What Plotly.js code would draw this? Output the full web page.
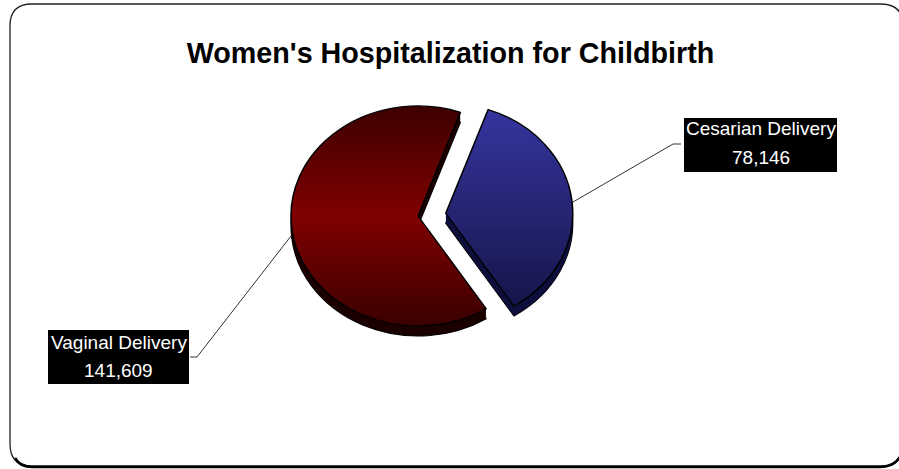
<!DOCTYPE html>
<html><head><meta charset="utf-8">
<script src="https://cdn.plot.ly/plotly-3.0.1.min.js"></script>
<style>html,body{margin:0;padding:0;background:#fff}#c{width:899px;height:469px}</style>
</head><body><div id="c"></div>
<script>
var categories = ['Cesarian Delivery', 'Vaginal Delivery'];
var values = [78146, 141609];
var valueLabels = ['78,146', '141,609'];
var titleText = "Women's Hospitalization for Childbirth";

var W = 899, H = 469;
function px(x){ return x / W; }
function py(y){ return 1 - y / H; }

var cx = 418, cy = 216, ry = 110, rx = 127, pull = 0.22, rot = 19.5;
var half = ry * (1 + pull);
var depths = [10, 9, 8, 7, 6, 5, 4, 3, 2, 1, 0];

var traces = depths.map(function(d, i){
  var top = d === 0, deepest = i === 0;
  return {
    type: 'pie', values: values, labels: categories, sort: false, direction: 'clockwise',
    rotation: rot, pull: [pull, 0], textinfo: 'none', hoverinfo: 'skip', showlegend: false,
    domain: { x: [px(cx - half), px(cx + half)], y: [py(cy + d + half), py(cy + d - half)] },
    marker: { colors: top ? ['#333399', '#800000'] : ['#10103f', '#1c0000'],
              line: { color: '#000000', width: top ? 1.3 : (deepest ? 1 : 0) } }
  };
});

function L(pts, w, c){
  return { type:'path', xref:'paper', yref:'paper', layer:'above',
    path: pts.map(function(p,i){ return (i?'L':'M') + px(p[0]) + ',' + py(p[1]); }).join(' '),
    line:{ color:c||'#000', width:w||1 } };
}
function box(x0,y0,x1,y1){
  return { type:'rect', xref:'paper', yref:'paper', layer:'below',
    x0:px(x0), x1:px(x1), y0:py(y1), y1:py(y0), fillcolor:'#000', line:{width:0} };
}
function frame(x0,y0,x1,y1,r,w,c){
  var p = 'M'+px(x0+r)+','+py(y0)+' L'+px(x1-r)+','+py(y0)+
    ' Q'+px(x1)+','+py(y0)+' '+px(x1)+','+py(y0+r)+
    ' L'+px(x1)+','+py(y1-r)+' Q'+px(x1)+','+py(y1)+' '+px(x1-r)+','+py(y1)+
    ' L'+px(x0+r)+','+py(y1)+' Q'+px(x0)+','+py(y1)+' '+px(x0)+','+py(y1-r)+
    ' L'+px(x0)+','+py(y0+r)+' Q'+px(x0)+','+py(y0)+' '+px(x0+r)+','+py(y0)+' Z';
  return { type:'path', xref:'paper', yref:'paper', layer:'below', path:p, line:{color:c,width:w} };
}
function bottomEdge(){
  var p = 'M'+px(15)+','+py(458)+' Q'+px(20)+','+py(467)+' '+px(32)+','+py(467)+
    ' L'+px(880)+','+py(467)+' Q'+px(895)+','+py(467)+' '+px(901)+','+py(455);
  return { type:'path', xref:'paper', yref:'paper', layer:'below', path:p, line:{color:'#000',width:2.6} };
}
function text(s,x,y){
  return { text:s, x:px(x), y:py(y), xref:'paper', yref:'paper', showarrow:false,
    xanchor:'center', yanchor:'middle', font:{family:'Liberation Sans, Arial, sans-serif', size:19, color:'#fff'} };
}

var layout = {
  width:W, height:H, margin:{l:0,r:0,t:0,b:0}, paper_bgcolor:'#fff', plot_bgcolor:'#fff', showlegend:false,
  title:{ text:titleText, x:px(450.5), xanchor:'center', y:py(53), yanchor:'middle',
    font:{family:'Liberation Sans, Arial, sans-serif', size:28.7, color:'#000', weight:700} },
  shapes:[
    frame(10,4,903,466,22,1.3,'#222'),
    bottomEdge(),
    box(684,118,837,172), box(48,330,189,384),
    L([[573,202],[673,144],[681,144]],1,'#333'),
    L([[291,236],[197,357],[190,357]],1,'#333')
  ],
  annotations:[
    text(categories[0],760.5,129), text(valueLabels[0],760.5,157),
    text(categories[1],118.5,342), text(valueLabels[1],118.5,370)
  ]
};

Plotly.newPlot('c', traces, layout, {displayModeBar:false, staticPlot:true}).then(function(gd){
  var svg = gd.querySelector('svg.main-svg');
  var ns = 'http://www.w3.org/2000/svg';
  var defs = svg.querySelector('defs') || svg.insertBefore(document.createElementNS(ns,'defs'), svg.firstChild);
  function grad(id, stops){
    var g = document.createElementNS(ns,'linearGradient');
    g.setAttribute('id',id); g.setAttribute('x1','0'); g.setAttribute('y1','0'); g.setAttribute('x2','0'); g.setAttribute('y2','1');
    stops.forEach(function(s){
      var e = document.createElementNS(ns,'stop');
      e.setAttribute('offset',s[0]); e.setAttribute('stop-color',s[1]); g.appendChild(e);
    });
    defs.appendChild(g);
  }
  grad('gBlue',[[0,'#35359f'],[1,'#15154a']]);
  grad('gRed',[[0,'#3d0000'],[0.5,'#800000'],[1,'#3a0000']]);
  var groups = gd.querySelectorAll('.pielayer .trace');
  groups.forEach(function(g,i){
    var s = rx/ry;
    g.setAttribute('transform','translate('+cx+',0) scale('+s+',1) translate('+(-cx)+',0)');
    if(i === groups.length-1){
      var paths = g.querySelectorAll('.slice path.surface');
      paths[0].style.fill = 'url(#gBlue)';
      paths[1].style.fill = 'url(#gRed)';
    }
  });
});
</script></body></html>
